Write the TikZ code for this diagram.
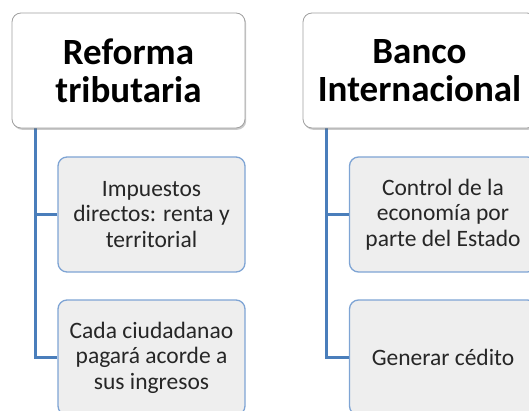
\documentclass[tikz,border=0pt]{standalone}
\usepackage{fontspec}
\setmainfont{Carlito}
\usetikzlibrary{shadows}
\definecolor{linkblue}{RGB}{74,126,187}
\definecolor{childborder}{RGB}{126,164,212}
\definecolor{childfill}{RGB}{238,238,238}
\definecolor{topborder}{RGB}{160,160,160}
\tikzset{
  topbox/.style={draw=topborder, line width=0.8pt, fill=white, rounded corners=9pt,
    minimum width=233pt, minimum height=115pt, align=center, inner sep=0pt,
    font=\fontsize{37}{38}\selectfont\bfseries,
    drop shadow={shadow xshift=1.2pt, shadow yshift=-1.8pt, opacity=0.35, fill=black!60}},
  childbox/.style={draw=childborder, line width=1.3pt, fill=childfill, rounded corners=9pt,
    minimum width=187pt, minimum height=115pt, align=center, inner sep=0pt,
    font=\fontsize{23.5}{25.5}\selectfont, text=black!85},
  conn/.style={draw=linkblue, line width=3pt}
}
\begin{document}
\begin{tikzpicture}[x=1pt,y=1pt]
\useasboundingbox (0,0) rectangle (529,-411);
\clip (0,0) rectangle (529,-411);
\coordinate (v1) at (35.5,-128);
\coordinate (v2) at (326,-128);
\node[childbox] (c1) at (151.5,-214.5) {Impuestos\\directos: renta y\\territorial};
\node[childbox] (c2) at (151.5,-357.5) {Cada ciudadanao\\pagará acorde a\\sus ingresos};
\node[childbox] (d1) at (443,-214.5) {Control de la\\economía por\\parte del Estado};
\node[childbox] (d2) at (443,-357.5) {Generar cédito};
\draw[conn] (v1) |- (c2.west);
\draw[conn] (c1.west) -- (c1.west -| v1);
\draw[conn] (v2) |- (d2.west);
\draw[conn] (d1.west) -- (d1.west -| v2);
\node[topbox] (t1) at (128.5,-70.5) {Reforma\\tributaria};
\node[topbox] (t2) at (419.5,-70.5) {Banco\\Internacional};
\end{tikzpicture}
\end{document}
